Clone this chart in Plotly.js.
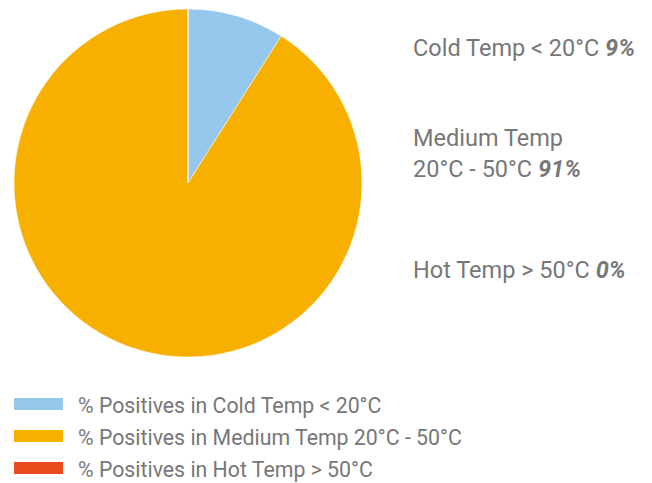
<!DOCTYPE html>
<html><head><meta charset="utf-8">
<script src="https://cdn.plot.ly/plotly-3.0.1.min.js"></script>
<style>html,body{margin:0;padding:0;background:#fff}#chart{width:652px;height:483px}</style>
</head><body><div id="chart"></div>
<script>
const categories = ["Cold Temp < 20°C", "Medium Temp<br>20°C - 50°C", "Hot Temp > 50°C"];
const legendLabels = ["% Positives in Cold Temp < 20°C", "% Positives in Medium Temp 20°C - 50°C", "% Positives in Hot Temp > 50°C"];
const values = [9, 91, 0];
const colors = ["#95C8EC", "#F7B000", "#E84C1C"];

const W = 652, H = 483;
const px = x => x / W;
const py = y => 1 - y / H;
const textColor = "#777777";
const font = "Roboto, 'Open Sans', sans-serif";

const trace = {
  type: "pie",
  labels: legendLabels,
  values: values,
  marker: {colors: colors, line: {color: "#ffffff", width: 0.5}},
  sort: false,
  direction: "clockwise",
  rotation: 0,
  textinfo: "none",
  showlegend: false,
  domain: {x: [px(14), px(362)], y: [py(357), py(9)]}
};

const annY = [48, 153, 270];
const annotations = categories.map((c, i) => ({
  xref: "paper", yref: "paper", x: px(411), y: py(annY[i]),
  xanchor: "left", yanchor: "middle", align: "left", showarrow: false,
  text: c + " <b><i>" + values[i] + "%</i></b>",
  font: {family: font, size: 23.5, color: textColor}
}));
const legY = [404, 436, 468];
const shapes = [];
legendLabels.forEach((l, i) => {
  shapes.push({type: "rect", xref: "paper", yref: "paper",
    x0: px(14), x1: px(63), y0: py(legY[i] + 6), y1: py(legY[i] - 6),
    fillcolor: colors[i], line: {width: 0}});
  annotations.push({xref: "paper", yref: "paper", x: px(76), y: py(legY[i] + 1),
    xanchor: "left", yanchor: "middle", showarrow: false, text: l,
    font: {family: font, size: 21.3, color: textColor}});
});

Plotly.newPlot("chart", [trace], {
  width: W, height: H, margin: {l: 0, r: 0, t: 0, b: 0},
  paper_bgcolor: "#fff", showlegend: false,
  annotations: annotations, shapes: shapes
}, {displayModeBar: false, staticPlot: true});
</script></body></html>
